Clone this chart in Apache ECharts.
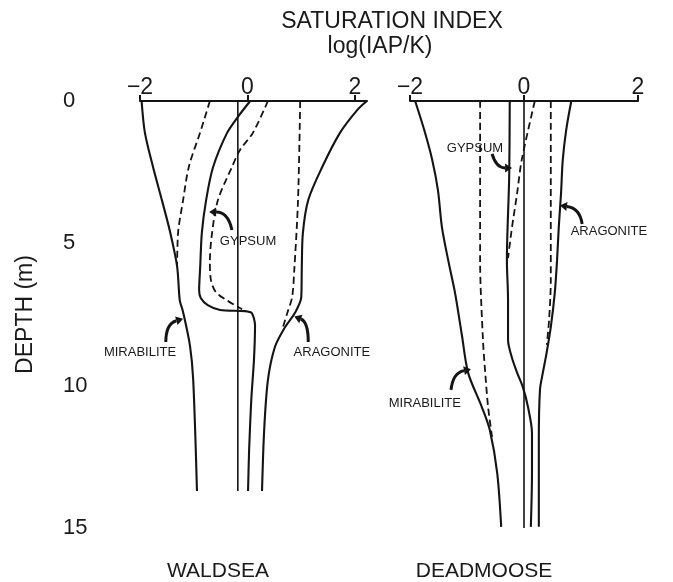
<!DOCTYPE html>
<html>
<head>
<meta charset="utf-8">
<script src="https://cdn.jsdelivr.net/npm/echarts@6/dist/echarts.min.js"></script>
<style>html,body{margin:0;padding:0;background:#fff}#c{width:673px;height:582px}</style>
</head>
<body>
<div id="c"></div>
<script>
// ---- Data (saturation index vs depth) ----
const xTicks = [-2, 0, 2];
const depthTicks = [0, 5, 10, 15];
const panelNames = ['WALDSEA', 'DEADMOOSE'];

// WALDSEA
const wMirSolidDepth = [0, 1.1, 2.3, 3.5, 4.6, 5.8, 7.0, 7.4, 8.6, 9.8, 13.7];
const wMirSolidSI    = [-1.97, -1.91, -1.76, -1.59, -1.44, -1.31, -1.26, -1.2, -1.07, -1.01, -0.94];
const wMirDashDepth  = [0, 1.1, 2.3, 3.5, 4.6, 5.8];
const wMirDashSI     = [-0.7, -0.88, -1.09, -1.2, -1.29, -1.31];
const wGypSolidDepth = [0, 0.56, 1.12, 2.32, 3.48, 4.64, 5.83, 6.64, 6.92, 7.17, 7.34, 7.38, 7.45, 7.87, 9.1, 10.5, 12.26, 13.7];
const wGypSolidSI    = [0.05, -0.18, -0.38, -0.64, -0.77, -0.85, -0.88, -0.9, -0.87, -0.74, -0.51, -0.05, 0.08, 0.14, 0.12, 0.07, 0.03, 0.01];
const wGypDashDepth  = [0, 1.12, 1.72, 2.32, 3.48, 4.64, 5.66, 6.29, 6.71, 7.03, 7.31];
const wGypDashSI     = [0.38, 0.1, -0.14, -0.29, -0.55, -0.66, -0.7, -0.68, -0.59, -0.36, -0.1];
const wZeroDepth     = [0, 13.7];
const wZeroSI        = [-0.18, -0.18];
const wAraDashDepth  = [0, 3.48, 5.94, 6.89, 7.45, 7.94];
const wAraDashSI     = [0.98, 0.94, 0.87, 0.83, 0.74, 0.66];
const wAraSolidDepth = [0, 0.32, 1.12, 2.32, 3.48, 4.64, 5.83, 6.89, 7.45, 7.94, 8.64, 9.8, 11.56, 13.7];
const wAraSolidSI    = [2.22, 2.04, 1.72, 1.39, 1.13, 1.03, 1.01, 1.0, 0.88, 0.7, 0.51, 0.38, 0.31, 0.27];

// DEADMOOSE
const dMirSolidDepth = [0, 1.02, 2.07, 3.13, 4.43, 5.59, 6.74, 8.22, 9.55, 10.75, 11.56, 13.07, 14.96];
const dMirSolidSI    = [-1.91, -1.75, -1.61, -1.51, -1.44, -1.33, -1.21, -1.09, -0.98, -0.74, -0.6, -0.47, -0.4];
const dMirDashDepth  = [0, 5.59, 8.4, 9.55, 10.75, 11.8];
const dMirDashSI     = [-0.77, -0.77, -0.72, -0.68, -0.63, -0.56];
const dGypSolidDepth = [0, 2.67, 5.59, 6.99, 8.4, 9.03, 9.55, 10.05, 10.75, 11.66, 13.07, 14.96];
const dGypSolidSI    = [-0.25, -0.26, -0.3, -0.28, -0.28, -0.21, -0.12, -0.02, 0.07, 0.14, 0.14, 0.12];
const dGypDashDepth  = [0, 2.07, 3.23, 4.43, 5.52];
const dGypDashSI     = [0.19, -0.04, -0.12, -0.21, -0.28];
const dZeroDepth     = [0, 15];
const dZeroSI        = [0, 0];
const dAraDashDepth  = [0, 3.48, 6.29, 7.69, 8.57];
const dAraDashSI     = [0.47, 0.47, 0.47, 0.44, 0.4];
const dAraSolidDepth = [0, 1.02, 2.07, 3.23, 4.43, 5.59, 6.74, 7.94, 8.92, 9.55, 10.15, 11.91, 14.96];
const dAraSolidSI    = [0.83, 0.74, 0.68, 0.65, 0.61, 0.58, 0.54, 0.47, 0.39, 0.33, 0.28, 0.26, 0.26];

// annotations (panel, text, [SI, depth]) and arrows (panel, tail, control, head)
const labelTexts = ['GYPSUM', 'MIRABILITE', 'ARAGONITE', 'GYPSUM', 'ARAGONITE', 'MIRABILITE'];
const labelPanels = [0, 0, 0, 1, 1, 1];
const labelPos = [[0.01, 4.92], [-2.0, 8.82], [1.57, 8.82], [-0.86, 1.65], [1.49, 4.57], [-1.74, 10.64]];
const arrowPanels = [0, 0, 0, 1, 1, 1];
const arrowTail = [[-0.29, 4.53], [-1.52, 8.47], [1.13, 8.47], [-0.56, 1.86], [1.02, 4.32], [-1.28, 10.15]];
const arrowCtrl = [[-0.36, 3.90], [-1.52, 7.83], [1.13, 7.76], [-0.49, 2.35], [0.98, 3.76], [-1.25, 9.55]];
const arrowHead = [[-0.64, 3.90], [-1.27, 7.69], [0.94, 7.62], [-0.28, 2.35], [0.70, 3.69], [-1.0, 9.45]];

// ---- Chart ----
const FONT = '"Liberation Sans", Arial, sans-serif';
const INK = '#141414';
const TXT = '#1a1a1a';
const zip = (si, dep) => si.map((v, i) => [v, dep[i]]);

function line(panel, si, dep, dashed, smooth, width) {
  return {
    type: 'line', xAxisIndex: panel, yAxisIndex: panel,
    data: zip(si, dep), symbol: 'none', clip: false, silent: true,
    smooth: smooth, animation: false,
    lineStyle: { color: INK, width: width || (dashed ? 1.8 : 2.1), type: dashed ? [7, 4] : 'solid' }
  };
}

const chart = echarts.init(document.getElementById('c'), null, { renderer: 'canvas' });

const xAxisBase = (gi, max) => ({
  type: 'value', gridIndex: gi, position: 'top', min: -2, max: max,
  axisLine: { show: true, onZero: false, lineStyle: { color: INK, width: 2 } },
  axisTick: { show: true, customValues: xTicks, length: 6, lineStyle: { color: INK, width: 2 } },
  axisLabel: { customValues: xTicks, fontSize: 23, fontFamily: FONT, color: TXT, margin: 2,
    formatter: v => String(v).replace('-', '\u2212') },
  splitLine: { show: false }
});

const titleStyle = (size) => ({ fontSize: size, fontWeight: 'normal', fontFamily: FONT, color: TXT });

chart.setOption({
  animation: false,
  backgroundColor: '#fff',
  title: [
    { text: 'SATURATION INDEX', left: 392, top: 10, textAlign: 'center', padding: 0, textStyle: titleStyle(23) },
    { text: 'log(IAP/K)', left: 380, top: 35, textAlign: 'center', padding: 0, textStyle: titleStyle(23) },
    { text: panelNames[0], left: 218, top: 561, textAlign: 'center', padding: 0, textStyle: titleStyle(21) },
    { text: panelNames[1], left: 484, top: 561, textAlign: 'center', padding: 0, textStyle: titleStyle(21) }
  ],
  grid: [
    { left: 140, top: 101, width: 227, height: 427 },
    { left: 410, top: 101, width: 228, height: 427 }
  ],
  xAxis: [ xAxisBase(0, 2.223), xAxisBase(1, 2) ],
  yAxis: [
    { type: 'value', gridIndex: 0, inverse: true, min: 0, max: 15, interval: 5,
      axisLine: { show: false }, axisTick: { show: false }, splitLine: { show: false },
      axisLabel: { customValues: depthTicks, fontSize: 22, fontFamily: FONT, color: TXT, align: 'left', margin: 77 },
      name: 'DEPTH (m)', nameLocation: 'middle', nameRotate: 90, nameGap: 103,
      nameTextStyle: { fontSize: 23, fontFamily: FONT, color: TXT } },
    { type: 'value', gridIndex: 1, inverse: true, min: 0, max: 15, interval: 5, show: false }
  ],
  series: [
    line(0, wMirSolidSI, wMirSolidDepth, false, 0.3),
    line(0, wMirDashSI, wMirDashDepth, true, 0.3),
    line(0, wGypSolidSI, wGypSolidDepth, false, 0.25),
    line(0, wGypDashSI, wGypDashDepth, true, 0.3),
    line(0, wZeroSI, wZeroDepth, false, false, 1.6),
    line(0, wAraDashSI, wAraDashDepth, true, 0.3),
    line(0, wAraSolidSI, wAraSolidDepth, false, 0.3),
    line(1, dMirSolidSI, dMirSolidDepth, false, 0.3),
    line(1, dMirDashSI, dMirDashDepth, true, 0.3),
    line(1, dGypSolidSI, dGypSolidDepth, false, 0.3),
    line(1, dGypDashSI, dGypDashDepth, true, 0.3),
    line(1, dZeroSI, dZeroDepth, false, false, 1.6),
    line(1, dAraDashSI, dAraDashDepth, true, 0.3),
    line(1, dAraSolidSI, dAraSolidDepth, false, 0.3)
  ]
});

// annotations placed through the chart's own coordinate conversion
const toPx = (panel, p) => chart.convertToPixel({ gridIndex: panel }, p);
const graphics = [];
labelTexts.forEach((t, i) => {
  const p = toPx(labelPanels[i], labelPos[i]);
  graphics.push({ type: 'text', x: p[0], y: p[1], silent: true,
    style: { text: t, fontSize: 13, fontFamily: FONT, fill: TXT, align: 'center', verticalAlign: 'middle' } });
});
arrowTail.forEach((tl, i) => {
  const a = toPx(arrowPanels[i], tl), c = toPx(arrowPanels[i], arrowCtrl[i]), h = toPx(arrowPanels[i], arrowHead[i]);
  let dx = h[0] - c[0], dy = h[1] - c[1];
  const L = Math.hypot(dx, dy) || 1; dx /= L; dy /= L;
  const px = -dy, py = dx;
  const base = [h[0] - dx * 3, h[1] - dy * 3];
  graphics.push({ type: 'bezierCurve', silent: true,
    shape: { x1: a[0], y1: a[1], cpx1: c[0], cpy1: c[1], x2: base[0], y2: base[1] },
    style: { stroke: INK, lineWidth: 3, fill: null } });
  graphics.push({ type: 'polygon', silent: true,
    shape: { points: [[h[0] + dx * 4, h[1] + dy * 4], [base[0] + px * 4.5, base[1] + py * 4.5], [base[0] - px * 4.5, base[1] - py * 4.5]] },
    style: { fill: INK } });
});
chart.setOption({ graphic: graphics });
</script>
</body>
</html>
